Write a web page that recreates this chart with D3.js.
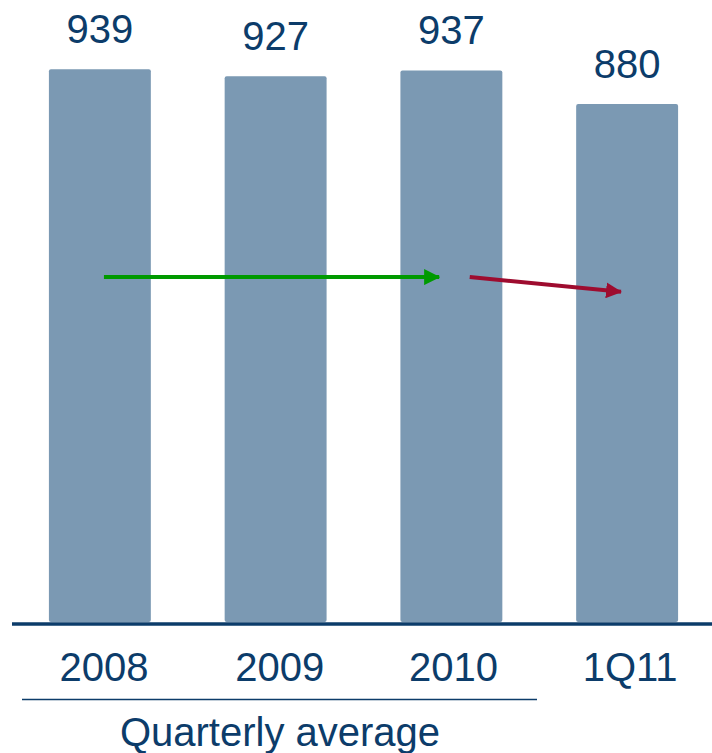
<!DOCTYPE html>
<html><head><meta charset="utf-8">
<script src="https://cdn.jsdelivr.net/npm/d3@7"></script>
<style>html,body{margin:0;padding:0;background:#fff;}svg{display:block;}</style>
</head><body>
<svg id="chart" width="712" height="753"></svg>
<script>
const categories = ["2008", "2009", "2010", "1Q11"];
const values = [939, 927, 937, 880];
const groupLabel = "Quarterly average";
// arrow annotations: [category, offset (band fraction), value]
const arrowFrom = [["2008", 0.54, 586], ["2010", 0.68, 586]];
const arrowTo = [["2010", 0.38, 586], ["1Q11", 0.44, 561]];
const arrowColors = ["#009a00", "#9e0c2f"];

const navy = "#0c3c6a", barColor = "#7b99b3";
const svg = d3.select("#chart");
const font = "Liberation Sans, Arial, Helvetica, sans-serif";

const x = d3.scaleBand().domain(categories).range([12, 715]).paddingInner(0.42).paddingOuter(0.21);
const y = d3.scaleLinear().domain([0, 1000]).range([622, 33.4]);

svg.append("g").selectAll("rect").data(values).join("rect")
  .attr("x", (d, i) => x(categories[i]))
  .attr("y", d => y(d))
  .attr("width", x.bandwidth())
  .attr("height", d => y(0) - y(d))
  .attr("rx", 2)
  .attr("fill", barColor);

svg.append("g").selectAll("text").data(values).join("text")
  .attr("x", (d, i) => x(categories[i]) + x.bandwidth() / 2)
  .attr("y", d => y(d) - 26)
  .attr("text-anchor", "middle")
  .attr("font-family", font)
  .attr("font-size", 40)
  .attr("fill", navy)
  .text(d => d);

// baseline axis
const axis = svg.append("g").attr("transform", "translate(0,624)")
  .call(d3.axisBottom(x).tickSize(0).tickPadding(0));
axis.select(".domain").attr("d", "M12,0H712").attr("stroke", navy).attr("stroke-width", 3.5);
axis.selectAll(".tick text")
  .attr("y", 57).attr("dy", null)
  .attr("font-family", font).attr("font-size", 40).attr("fill", navy)
  .attr("dx", (d, i) => [4, 4, 2, 3][i]);

// group bracket
svg.append("line").attr("x1", 22).attr("x2", 537).attr("y1", 699.5).attr("y2", 699.5)
  .attr("stroke", navy).attr("stroke-width", 1.5);
svg.append("text").attr("x", 280).attr("y", 746).attr("text-anchor", "middle")
  .attr("font-family", font).attr("font-size", 40).attr("fill", navy).text(groupLabel);

// arrows
const defs = svg.append("defs");
arrowColors.forEach((c, i) => {
  defs.append("marker").attr("id", "ah" + i).attr("viewBox", "0 0 16 16")
    .attr("refX", 15).attr("refY", 8).attr("markerWidth", 16).attr("markerHeight", 16)
    .attr("markerUnits", "userSpaceOnUse").attr("orient", "auto")
    .append("path").attr("d", "M0,0L16,8L0,16Z").attr("fill", c);
});
svg.append("g").selectAll("line").data(arrowFrom).join("line")
  .attr("x1", d => x(d[0]) + d[1] * x.bandwidth())
  .attr("y1", d => y(d[2]))
  .attr("x2", (d, i) => x(arrowTo[i][0]) + arrowTo[i][1] * x.bandwidth())
  .attr("y2", (d, i) => y(arrowTo[i][2]))
  .attr("stroke", (d, i) => arrowColors[i])
  .attr("stroke-width", 4)
  .attr("marker-end", (d, i) => "url(#ah" + i + ")");
</script>
</body></html>
